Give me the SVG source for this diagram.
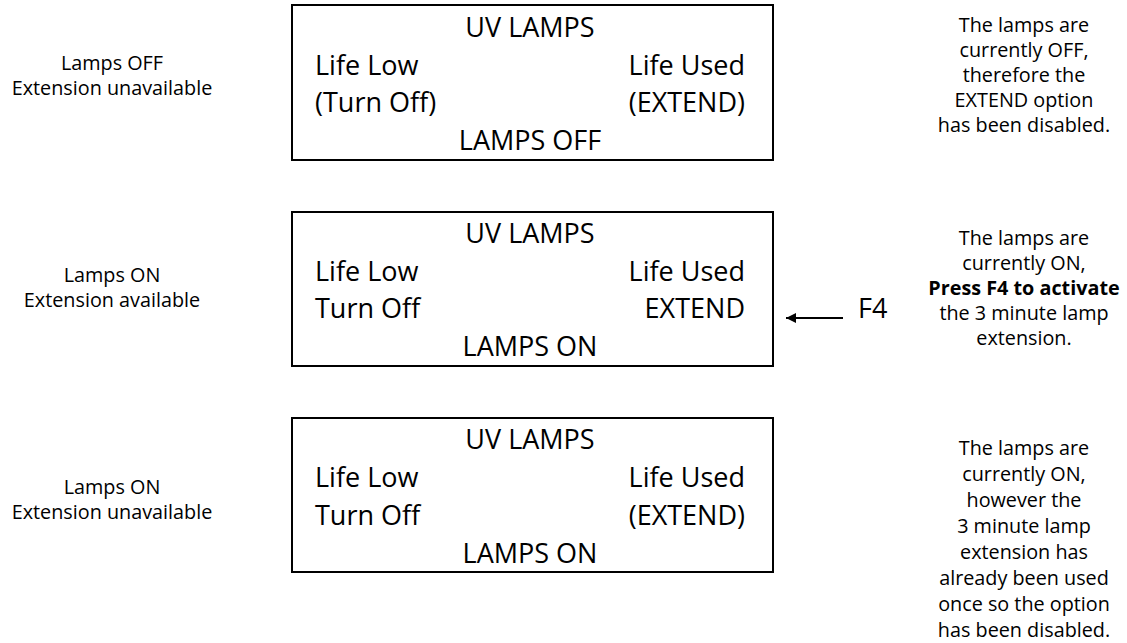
<svg xmlns="http://www.w3.org/2000/svg" width="1127" height="643" viewBox="0 0 1127 643">
<style>
  .box { fill: #ffffff; stroke: #000000; stroke-width: 2; }
  .lcd { font-family: "Open Sans", "Noto Sans", sans-serif; font-size: 27px; fill: #000000; }
  .c { text-anchor: middle; }
  .r { text-anchor: end; }
  .side { font-family: "Open Sans", "Noto Sans", sans-serif; font-size: 19.8px; fill: #000000; text-anchor: middle; }
  .b { font-weight: bold; }
  .conn { stroke: #000000; stroke-width: 2; fill: none; }
</style>
<defs>
  <marker id="ah" viewBox="0 0 10 10" refX="10" refY="5" markerWidth="6" markerHeight="5" markerUnits="strokeWidth" orient="auto">
    <path d="M0,0 L10,5 L0,10 Z" fill="#000000"/>
  </marker>
</defs>
<rect width="1127" height="643" fill="#ffffff"/>

<g id="panel-off">
  <rect class="box" x="292" y="5" width="481" height="155"/>
  <text class="lcd c" x="530" y="37">UV LAMPS</text>
  <text class="lcd" x="315" y="75">Life Low</text>
  <text class="lcd r" x="745" y="75">Life Used</text>
  <text class="lcd" x="315" y="112">(Turn Off)</text>
  <text class="lcd r" x="745" y="112">(EXTEND)</text>
  <text class="lcd c" x="530" y="150">LAMPS OFF</text>
</g>
<g id="label-off">
  <text class="side" x="112" y="70">Lamps OFF</text>
  <text class="side" x="112" y="95">Extension unavailable</text>
</g>
<g id="note-off">
  <text class="side" x="1024" y="32">The lamps are</text>
  <text class="side" x="1024" y="57">currently OFF,</text>
  <text class="side" x="1024" y="82">therefore the</text>
  <text class="side" x="1024" y="107">EXTEND option</text>
  <text class="side" x="1024" y="132">has been disabled.</text>
</g>

<g id="panel-on">
  <rect class="box" x="292" y="212" width="481" height="154"/>
  <text class="lcd c" x="530" y="243">UV LAMPS</text>
  <text class="lcd" x="315" y="281">Life Low</text>
  <text class="lcd r" x="745" y="281">Life Used</text>
  <text class="lcd" x="315" y="318">Turn Off</text>
  <text class="lcd r" x="745" y="318">EXTEND</text>
  <text class="lcd c" x="530" y="356">LAMPS ON</text>
</g>
<g id="label-on">
  <text class="side" x="112" y="282">Lamps ON</text>
  <text class="side" x="112" y="307">Extension available</text>
</g>
<g id="note-on">
  <text class="side" x="1024" y="245">The lamps are</text>
  <text class="side" x="1024" y="270">currently ON,</text>
  <text class="side b" x="1024" y="295">Press F4 to activate</text>
  <text class="side" x="1024" y="320">the 3 minute lamp</text>
  <text class="side" x="1024" y="345">extension.</text>
</g>
<g id="key-f4">
  <text class="lcd" x="858" y="318">F4</text>
</g>

<g id="panel-used">
  <rect class="box" x="292" y="418" width="481" height="154"/>
  <text class="lcd c" x="530" y="449">UV LAMPS</text>
  <text class="lcd" x="315" y="487">Life Low</text>
  <text class="lcd r" x="745" y="487">Life Used</text>
  <text class="lcd" x="315" y="525">Turn Off</text>
  <text class="lcd r" x="745" y="525">(EXTEND)</text>
  <text class="lcd c" x="530" y="563">LAMPS ON</text>
</g>
<g id="label-used">
  <text class="side" x="112" y="494">Lamps ON</text>
  <text class="side" x="112" y="519">Extension unavailable</text>
</g>
<g id="note-used">
  <text class="side" x="1024" y="455">The lamps are</text>
  <text class="side" x="1024" y="481">currently ON,</text>
  <text class="side" x="1024" y="507">however the</text>
  <text class="side" x="1024" y="533">3 minute lamp</text>
  <text class="side" x="1024" y="559">extension has</text>
  <text class="side" x="1024" y="585">already been used</text>
  <text class="side" x="1024" y="611">once so the option</text>
  <text class="side" x="1024" y="637">has been disabled.</text>
</g>

<g id="connectors">
  <line class="conn" x1="843" y1="318" x2="786" y2="318" marker-end="url(#ah)"/>
</g>
</svg>
